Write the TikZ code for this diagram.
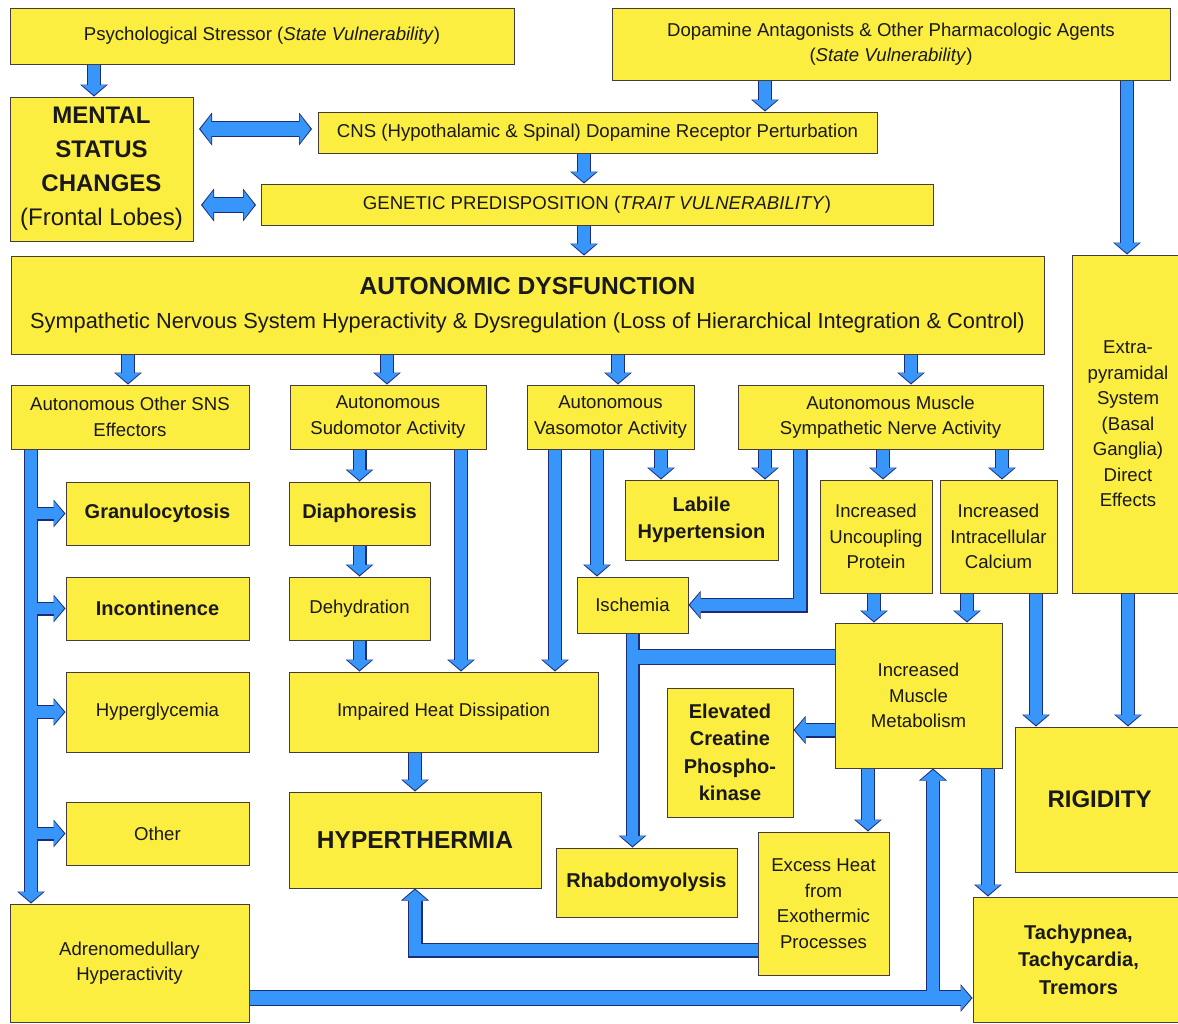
\documentclass[tikz,border=0pt]{standalone}
\usepackage{fontspec}
\setmainfont{Liberation Sans}
\usetikzlibrary{arrows.meta,calc}
\definecolor{yfill}{RGB}{252,238,64}
\definecolor{bdr}{RGB}{70,60,60}
\definecolor{ablue}{RGB}{56,150,250}
\definecolor{aoutc}{RGB}{25,45,120}
\pgfdeclarelayer{bg}\pgfdeclarelayer{arrout}\pgfdeclarelayer{arrin}
\pgfsetlayers{bg,arrout,arrin,main}
\tikzset{
 box/.style={draw=bdr, fill=yfill, line width=1pt, inner sep=2pt, align=center, text=black!90, font=\fontsize{18.6}{25.5}\selectfont},
 bb/.style={font=\fontsize{20}{27.5}\selectfont\bfseries},
 ho/.tip={Triangle[length=12pt,width=28pt,line width=0pt]},
 hi/.tip={Triangle[length=10pt,width=24pt,line width=0pt]},
 hob/.tip={Triangle[length=13pt,width=33pt,line width=0pt]},
 hib/.tip={Triangle[length=11pt,width=29pt,line width=0pt]},
 bo/.style={draw=aoutc, line join=miter, line cap=butt},
 bi/.style={draw=ablue, line join=miter, line cap=butt},
}
\newcommand\bx[7][]{\node[box,#1,minimum width={(#5-#3)*1pt},minimum height={(#6-#4)*1pt}] (#2) at ({(#3+#5)/2},{(#4+#6)/2}) {#7};}
% block arrows: [outer shaft width]{path}
\newcommand\blk[2][14]{\begin{pgfonlayer}{arrout}\draw[bo,line width=#1pt,-ho] #2;\end{pgfonlayer}\begin{pgfonlayer}{arrin}\draw[bi,line width={(#1-2.4)*1pt},-hi,shorten >=1.4pt] #2;\end{pgfonlayer}}
\newcommand\blkb[2][16.5]{\begin{pgfonlayer}{arrout}\draw[bo,line width=#1pt,hob-hob] #2;\end{pgfonlayer}\begin{pgfonlayer}{arrin}\draw[bi,line width={(#1-2.4)*1pt},hib-hib,shorten >=1.4pt,shorten <=1.4pt] #2;\end{pgfonlayer}}
\newcommand\blkn[2][14]{\begin{pgfonlayer}{arrout}\draw[bo,line width=#1pt] #2;\end{pgfonlayer}\begin{pgfonlayer}{arrin}\draw[bi,line width={(#1-2.4)*1pt}] #2;\end{pgfonlayer}}
\begin{document}
\begin{tikzpicture}[x=1pt,y=-1pt]
\useasboundingbox (0,0) rectangle (1178,1023);
\begin{pgfonlayer}{bg}\fill[white] (0,0) rectangle (1178,1023);\end{pgfonlayer}
% boxes
\bx{psy}{10}{8}{514}{64}{Psychological Stressor (\textit{State Vulnerability})}
\bx{dop}{612}{8}{1170}{80}{Dopamine Antagonists \& Other Pharmacologic Agents\\(\textit{State Vulnerability})}
\bx[font=\fontsize{24}{34}\selectfont]{mental}{10}{97}{193}{241}{\textbf{MENTAL}\\\textbf{STATUS}\\\textbf{CHANGES}\\(Frontal Lobes)}
\bx{cns}{318}{112}{877}{153}{CNS (Hypothalamic \& Spinal) Dopamine Receptor Perturbation}
\bx{gen}{261}{184}{933}{225}{GENETIC PREDISPOSITION (\textit{TRAIT VULNERABILITY})}
\bx[font=\fontsize{21.8}{34}\selectfont]{auto}{11}{256}{1044}{354}{{\fontsize{24.6}{34}\selectfont\bfseries AUTONOMIC DYSFUNCTION}\\Sympathetic Nervous System Hyperactivity \& Dysregulation (Loss of Hierarchical Integration \& Control)}
\bx{extra}{1072}{255}{1184}{593}{Extra-\\pyramidal\\System\\(Basal\\Ganglia)\\Direct\\Effects}
\bx{osns}{11}{385}{249}{449}{Autonomous Other SNS\\Effectors}
\bx{sudo}{290}{385}{486}{449}{Autonomous\\Sudomotor Activity}
\bx{vaso}{527}{385}{694}{449}{Autonomous\\Vasomotor Activity}
\bx{musc}{738}{385}{1043}{449}{Autonomous Muscle\\Sympathetic Nerve Activity}
\bx[bb]{gran}{66}{482}{249}{545}{Granulocytosis}
\bx[bb]{incon}{66}{577}{249}{640}{Incontinence}
\bx{hypg}{66}{672}{249}{752}{Hyperglycemia}
\bx{other}{66}{802}{249}{865}{Other}
\bx{adren}{10}{904}{249}{1022}{Adrenomedullary\\Hyperactivity}
\bx[bb]{diaph}{289}{482}{430}{545}{Diaphoresis}
\bx{dehyd}{289}{577}{430}{640}{Dehydration}
\bx{imp}{289}{672}{598}{752}{Impaired Heat Dissipation}
\bx[font=\fontsize{24.5}{30}\selectfont\bfseries]{hyper}{289}{792}{541}{888}{HYPERTHERMIA}
\bx[bb]{labile}{625}{480}{778}{560}{Labile\\Hypertension}
\bx{isch}{577}{577}{688}{633}{Ischemia}
\bx{uncp}{820}{480}{932}{593}{Increased\\Uncoupling\\Protein}
\bx{calc}{940}{480}{1057}{593}{Increased\\Intracellular\\Calcium}
\bx{metab}{835}{623}{1002}{768}{Increased\\Muscle\\Metabolism}
\bx[bb]{ecp}{667}{688}{793}{817}{Elevated\\Creatine\\Phospho-\\kinase}
\bx[bb]{rhab}{556}{848}{737}{917}{Rhabdomyolysis}
\bx{exh}{758}{832}{889}{975}{Excess Heat\\from\\Exothermic\\Processes}
\bx[font=\fontsize{24}{30}\selectfont\bfseries]{rigid}{1015}{727}{1184}{872}{RIGIDITY}
\bx[bb]{tach}{973}{897}{1184}{1022}{Tachypnea,\\Tachycardia,\\Tremors}
% connector start points
\coordinate (a1) at (94,64);
\coordinate (a2) at (765,80);
\coordinate (a3) at (584,153);
\coordinate (a4) at (584,225);
\coordinate (a5) at (1127,80);
\coordinate (d1) at (199,129);
\coordinate (d1e) at (312,129);
\coordinate (d2) at (201,205);
\coordinate (d2e) at (256,205);
\coordinate (o1) at (128,354);
\coordinate (o2) at (387,354);
\coordinate (o3) at (618,354);
\coordinate (o4) at (911,354);
\coordinate (t0) at (31,449);
\coordinate (s1) at (461,449);
\coordinate (v1) at (555,449);
\coordinate (v2) at (597,449);
\coordinate (v3) at (661,449);
\coordinate (m1) at (765,449);
\coordinate (m2) at (800,449);
\coordinate (m3) at (883,449);
\coordinate (m4) at (1002,449);
\coordinate (u1) at (874,593);
\coordinate (c1) at (967,593);
\coordinate (c2) at (1036,593);
\coordinate (j1) at (835,657);
\coordinate (k1) at (835,730);
\coordinate (x1) at (868,768);
\coordinate (x2) at (988,768);
\coordinate (h1) at (758,950);
\coordinate (r1) at (249,998);
\coordinate (r2) at (933,998);
% connectors
\blk{(a1) -- (a1 |- mental.north)}
\blk{(a2) -- (a2 |- cns.north)}
\blk{(a3) -- (a3 |- gen.north)}
\blk{(a4) -- (a4 |- auto.north)}
\blk{(a5) -- (a5 |- extra.north)}
\blkb{(d1) -- (d1e)}
\blkb{(d2) -- (d2e)}
\blk{(o1) -- (o1 |- osns.north)}
\blk{(o2) -- (o2 |- sudo.north)}
\blk{(o3) -- (o3 |- vaso.north)}
\blk{(o4) -- (o4 |- musc.north)}
\blk{(t0) -- (t0 |- adren.north)}
\blk{(t0 |- gran.west) -- (gran.west)}
\blk{(t0 |- incon.west) -- (incon.west)}
\blk{(t0 |- hypg.west) -- (hypg.west)}
\blk{(t0 |- other.west) -- (other.west)}
\blk{(diaph.north |- sudo.south) -- (diaph.north)}
\blk{(diaph.south) -- (dehyd.north)}
\blk{(dehyd.south) -- (dehyd.south |- imp.north)}
\blk{(s1) -- (s1 |- imp.north)}
\blk{(v1) -- (v1 |- imp.north)}
\blk{(hyper.north |- imp.south) -- (hyper.north)}
\blk{(v2) -- (v2 |- isch.north)}
\blk{(v3) -- (v3 |- labile.north)}
\blk{(m1) -- (m1 |- labile.north)}
\blk[15]{(m2) |- (isch.east)}
\blk{(m3) -- (m3 |- uncp.north)}
\blk{(m4) -- (m4 |- calc.north)}
\blk{(u1) -- (u1 |- metab.north)}
\blk{(c1) -- (c1 |- metab.north)}
\blk{(c2) -- (c2 |- rigid.north)}
\blk{(extra.south) -- (extra.south |- rigid.north)}
\blk{(isch.south) -- (isch.south |- rhab.north)}
\blkn[16]{(j1) -- (j1 -| isch.south)}
\blk[15]{(k1) -- (k1 -| ecp.east)}
\blk{(x1) -- (x1 |- exh.north)}
\blk{(x2) -- (x2 |- tach.north)}
\blk[15]{(h1) -| (hyper.south)}
\blk[16]{(r1) -- (r1 -| tach.west)}
\blk{(r2) -- (r2 |- metab.south)}
\end{tikzpicture}
\end{document}
